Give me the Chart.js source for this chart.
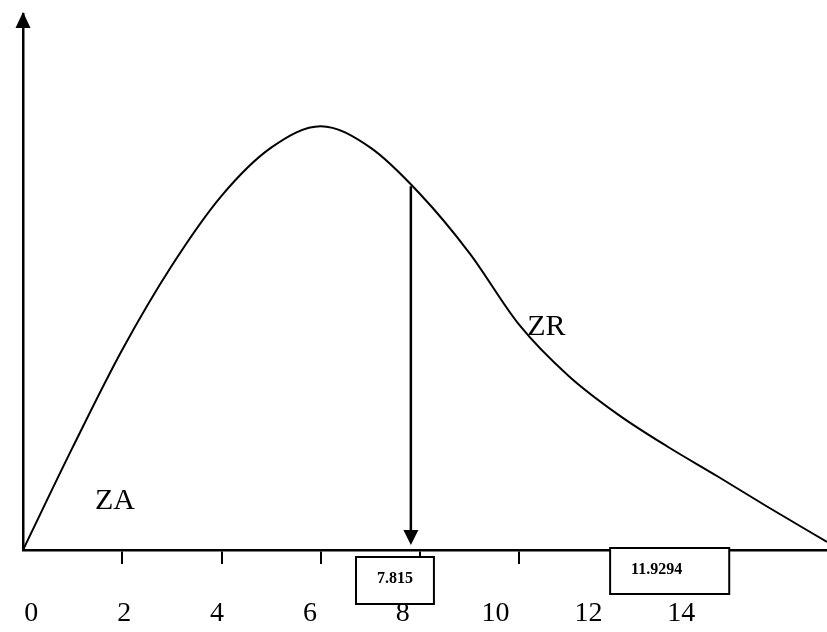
<!DOCTYPE html>
<html>
<head>
<meta charset="utf-8">
<script src="https://cdn.jsdelivr.net/npm/chart.js@4"></script>
<style>
  body { margin: 0; background: #fff; }
  #wrap { width: 827px; height: 632px; }
</style>
</head>
<body>
<div id="wrap"><canvas id="chart"></canvas></div>
<script>
// curve (x in axis units, y in density units)
const xValues = [0, 1, 2, 3, 4, 5, 6, 7, 8, 9, 10, 11, 12, 13, 14, 15, 16.2];
const densities = [0, 0.0268, 0.0523, 0.0743, 0.0925, 0.1051, 0.1107, 0.1051, 0.093, 0.0775, 0.0588, 0.0454, 0.0353, 0.0269, 0.0192, 0.0113, 0.0021];

// tick marks on the axis and the (hand placed) numbers under it
const tickMarks = [2, 4, 6, 8, 10, 12, 14];
const tickLabels = ['0', '2', '4', '6', '8', '10', '12', '14'];
const tickLabelValues = [0, 2, 4, 6, 8, 10, 12, 14];

const criticalValues = [7.815, 11.9294];
const criticalLabels = ['7.815', '11.9294'];
const regionLabels = ['ZA', 'ZR'];

const serif = '"Liberation Serif", "DejaVu Serif", serif';

const sketchNotes = {
  id: 'sketchNotes',
  afterDraw(chart, args, opts) {
    const ctx = chart.ctx;
    const x = chart.scales.x;
    const y = chart.scales.y;
    const area = chart.chartArea;
    ctx.save();
    ctx.fillStyle = '#000';
    ctx.strokeStyle = '#000';

    // arrow head on the y axis
    const ax = area.left;
    ctx.beginPath();
    ctx.moveTo(ax, area.top - 2);
    ctx.lineTo(ax - 7.5, area.top + 14);
    ctx.lineTo(ax + 7.5, area.top + 14);
    ctx.closePath();
    ctx.fill();

    // arrow down to the critical value
    const cx = x.getPixelForValue(criticalValues[0]);
    const tipY = y.getPixelForValue(0) - 5;
    ctx.lineWidth = 2.5;
    ctx.beginPath();
    ctx.moveTo(cx, y.getPixelForValue(opts.arrowTop));
    ctx.lineTo(cx, tipY - 14);
    ctx.stroke();
    ctx.beginPath();
    ctx.moveTo(cx, tipY);
    ctx.lineTo(cx - 7.5, tipY - 15);
    ctx.lineTo(cx + 7.5, tipY - 15);
    ctx.closePath();
    ctx.fill();

    // boxes with the critical values
    const base = y.getPixelForValue(0);
    opts.boxes.forEach((b, i) => {
      const l = x.getPixelForValue(b.from);
      const r = x.getPixelForValue(b.to);
      const t = base + b.top;
      const h = b.height;
      ctx.fillStyle = '#fff';
      ctx.fillRect(l, t, r - l, h);
      ctx.lineWidth = 2;
      ctx.strokeRect(l, t, r - l, h);
      ctx.fillStyle = '#000';
      ctx.font = 'bold 16px ' + serif;
      ctx.textAlign = 'left';
      ctx.textBaseline = 'middle';
      ctx.fillText(criticalLabels[i], l + 21, t + 22);
    });

    // region names
    ctx.font = '30px ' + serif;
    ctx.textBaseline = 'alphabetic';
    ctx.textAlign = 'left';
    opts.regions.forEach((p, i) => {
      ctx.fillText(regionLabels[i], x.getPixelForValue(p.x), y.getPixelForValue(p.y));
    });
    ctx.restore();
  }
};

new Chart(document.getElementById('chart'), {
  type: 'line',
  data: {
    datasets: [{
      data: xValues.map((v, i) => ({ x: v, y: densities[i] })),
      borderColor: '#000',
      borderWidth: 2,
      pointRadius: 0,
      cubicInterpolationMode: 'monotone',
      clip: false
    }]
  },
  options: {
    responsive: true,
    maintainAspectRatio: false,
    animation: false,
    layout: { padding: { left: 23, right: 0, top: 14, bottom: 4.5 } },
    plugins: {
      legend: { display: false },
      tooltip: { enabled: false },
      sketchNotes: {
        arrowTop: 0.095,
        boxes: [
          { from: 6.71, to: 8.28, top: 7, height: 47 },
          { from: 11.83, to: 14.23, top: -2, height: 46 }
        ],
        regions: [{ x: 1.45, y: 0.0107 }, { x: 10.16, y: 0.0562 }]
      }
    },
    scales: {
      x: {
        type: 'linear',
        min: 0,
        max: 16.2,
        weight: 0,
        afterBuildTicks: (axis) => { axis.ticks = tickMarks.map(v => ({ value: v })); },
        ticks: { display: false },
        grid: { drawOnChartArea: false, drawTicks: true, tickLength: 14, color: '#000', lineWidth: 2 },
        border: { display: true, color: '#000', width: 2.5 }
      },
      xl: {
        type: 'linear',
        position: 'bottom',
        min: -0.18,
        max: 17.14,
        weight: 1,
        afterBuildTicks: (axis) => { axis.ticks = tickLabelValues.map(v => ({ value: v })); },
        ticks: {
          padding: 0,
          maxRotation: 0,
          autoSkip: false,
          color: '#000',
          font: { family: serif, size: 28, lineHeight: 1 },
          callback: (v, i) => tickLabels[i]
        },
        grid: { drawOnChartArea: false, drawTicks: true, tickLength: 35.5, color: 'rgba(0,0,0,0)' },
        border: { display: false }
      },
      y: {
        min: 0,
        max: 0.14,
        ticks: { display: false },
        grid: { display: false, drawTicks: false },
        border: { display: true, color: '#000', width: 2.5 }
      }
    }
  },
  plugins: [sketchNotes]
});
</script>
</body>
</html>
